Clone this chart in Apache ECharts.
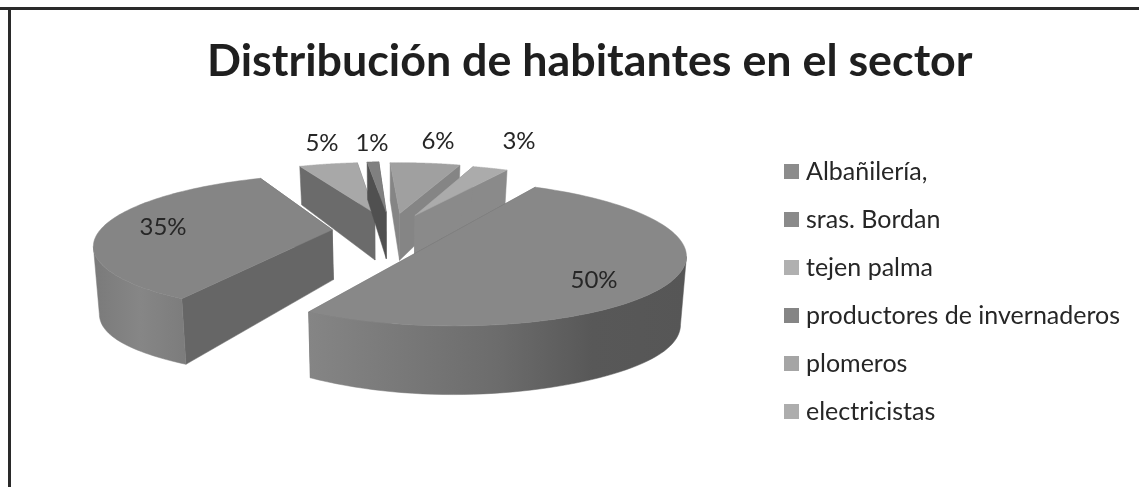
<!DOCTYPE html>
<html>
	<head>
		<meta charset="utf-8">
		<title>Distribución de habitantes en el sector</title>
		<script src="https://cdn.jsdelivr.net/npm/echarts@6/dist/echarts.min.js"></script>
	</head>
	<body style="margin:0;background:#fff">
		<div id="box" style="width:1139px;height:487px;"></div>
		<script>
			var categories = ['Albañilería,', 'sras. Bordan', 'tejen palma', 'productores de invernaderos', 'plomeros', 'electricistas']
			var values = [50, 35, 5, 1, 6, 3]
			var legendColors = ['#8c8c8c', '#8a8a8a', '#b0b0b0', '#858585', '#a5a5a5', '#adadad']

			// grises de cada cara
			var topColors = ['#888888', '#858585', '#a8a8a8', '#808080', '#a0a0a0', '#ababab']
			var cutColors = ['#666666', '#666666', '#6b6b6b', '#505050', '#858585', '#8a8a8a']
			var rimStops = [
				[[0, '#858585'], [0.5, '#6c6c6c'], [0.75, '#585858'], [1, '#565656']],
				[[0, '#7a7a7a'], [0.5, '#868686'], [1, '#7c7c7c']],
				[[0, '#7a7a7a'], [1, '#7a7a7a']],
				[[0, '#606060'], [1, '#606060']],
				[[0, '#858585'], [1, '#858585']],
				[[0, '#8a8a8a'], [1, '#8a8a8a']]
			]
			var zBySlice = [16, 15, 11, 12, 13, 14]
			var labelPos = [[594, 280], [163, 227], [322, 143], [372, 143], [438, 141], [519, 141]]

			// perspectiva del pastel 3D (ajustada a la imagen)
			var cam = { x: 391.03, y: 230.6, sx: 232.42, sy: 66.58, k: 0.193 }
			var startAngle = 29.885
			var explode = [0.244, 0.254, 0.284, 0.293, 0.273, 0.259]
			var wall = { h: 50, p: 1.3, c: 0.12, shrink: 0.98 }

			var rad = Math.PI / 180
			var total = values.reduce(function (a, b) { return a + b }, 0)
			var ang = []
			values.reduce(function (c, v) {
				var d = v / total * 360
				ang.push([c, c + d])
				return c + d
			}, startAngle)

			function ring(sl, phi, low) {
				var m = (ang[sl][0] + ang[sl][1]) / 2 * rad
				var X = explode[sl] * Math.sin(m) + (phi === null ? 0 : Math.sin(phi * rad))
				var Y = explode[sl] * Math.cos(m) + (phi === null ? 0 : Math.cos(phi * rad))
				var w = 1 + cam.k * Y
				var px = cam.x + cam.sx * X / w
				var py = cam.y - cam.sy * Y / w
				if (!low) return [px, py]
				var h = wall.h / Math.pow(w, wall.p) * (1 + wall.c * X * X * X * X)
				return [cam.x + (px - cam.x) * wall.shrink, py + h]
			}
			function poly(pts, fill) {
				return { type: 'polygon', shape: { points: pts }, style: { fill: fill, stroke: fill, lineWidth: 0.5 } }
			}
			function drawSlice(sl) {
				return function () {
					var a0 = ang[sl][0], a1 = ang[sl][1], n = 90, topArc = [], lowArc = []
					var iMin = 0
					for (var i = 0; i <= n; i++) {
						var f = a0 + (a1 - a0) * i / n
						topArc.push(ring(sl, f))
						lowArc.push(ring(sl, f, true))
						if (topArc[i][0] < topArc[iMin][0]) iMin = i
					}
					var iMax = 0
					for (i = 0; i <= iMin; i++) {
						if (topArc[i][0] > topArc[iMax][0]) iMax = i
					}
					var apex = ring(sl, null), apexLow = ring(sl, null, true)
					var children = [
						poly([apex, topArc[n], lowArc[n], apexLow], cutColors[sl]),
						poly([apex, topArc[0], lowArc[0], apexLow], cutColors[sl])
					]
					// el borde curvo va del extremo derecho al izquierdo (solo el frente)
					if (iMax < iMin) {
						var stops = rimStops[sl].map(function (s) { return { offset: s[0], color: s[1] } })
						children.push(poly(
							topArc.slice(iMax, iMin + 1).concat(lowArc.slice(iMax, iMin + 1).reverse()),
							{ type: 'linear', x: 0, y: 0, x2: 1, y2: 0, colorStops: stops }
						))
					}
					children.push(poly([apex].concat(topArc), topColors[sl]))
					children.push({
						type: 'text', z2: 5,
						style: { x: labelPos[sl][0], y: labelPos[sl][1], text: values[sl] + '%', fill: '#262626', font: '24px Lato', align: 'center', verticalAlign: 'middle' }
					})
					return { type: 'group', children: children }
				}
			}
			var series = categories.map(function (name, sl) {
				return {
					type: 'custom', name: name, coordinateSystem: 'none', z: zBySlice[sl], silent: true,
					itemStyle: { color: legendColors[sl] },
					data: [values[sl]], renderItem: drawSlice(sl)
				}
			})
			var mCharts = echarts.init(document.querySelector('#box'))
			mCharts.setOption({
				animation: false,
				backgroundColor: '#fff',
				title: {
					text: 'Distribución de habitantes en el sector', left: 202, top: 34,
					textStyle: { fontFamily: 'Lato', fontWeight: 'bold', fontSize: 44.8, color: '#1f1f1f' }
				},
				legend: {
					orient: 'vertical', left: 779, top: 154, selectedMode: false, data: categories,
					icon: 'rect', itemWidth: 15, itemHeight: 15, itemGap: 23,
					textStyle: { fontFamily: 'Lato', fontSize: 25, lineHeight: 24, color: '#262626', padding: [0, 0, 0, 2] }
				},
				graphic: [
					{ type: 'rect', shape: { x: 0, y: 7, width: 1139, height: 3 }, style: { fill: '#2a2a2a' } },
					{ type: 'rect', shape: { x: 8, y: 7, width: 3, height: 480 }, style: { fill: '#2a2a2a' } }
				],
				series: series
			})
		</script>
	</body>
</html>
